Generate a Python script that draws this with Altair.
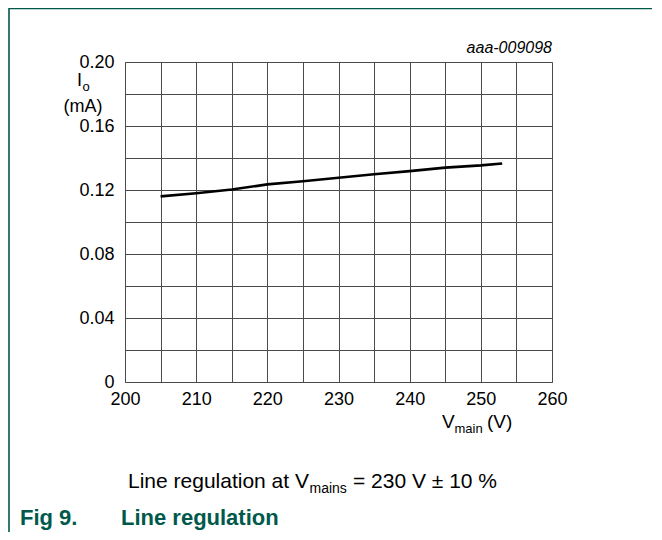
import altair as alt
import pandas as pd

# data
vmain = [205, 210, 215, 220, 225, 230, 235, 240, 245, 250, 253]
io_ma = [0.1160, 0.1180, 0.1203, 0.1235, 0.1255, 0.1277, 0.1298, 0.1318, 0.1340, 0.1354, 0.1366]

x_grid = [200, 205, 210, 215, 220, 225, 230, 235, 240, 245, 250, 255, 260]
y_grid = [0, 0.02, 0.04, 0.06, 0.08, 0.10, 0.12, 0.14, 0.16, 0.18, 0.20]

FONT = "Liberation Sans"
TEAL = "#00594a"
GRID = "#4a4a4a"
W, H = 427, 320
PADL, PADT, PADR, PADB = 117, 54, 100, 150

df = pd.DataFrame({"v": vmain, "i": io_ma})
one = pd.DataFrame({"k": [0]})

xscale = alt.Scale(domain=[200, 260], nice=False, zero=False)
yscale = alt.Scale(domain=[0, 0.2], nice=False, zero=False)

line = alt.Chart(df).mark_line(color="black", strokeWidth=2.6).encode(
    x=alt.X("v:Q", scale=xscale, axis=alt.Axis(
        values=x_grid, title=None, ticks=False, grid=True, gridColor=GRID,
        domainColor=GRID, labelFont=FONT, labelFontSize=18, labelColor="black",
        labelPadding=8, labelFlush=False,
        labelExpr="datum.value % 10 == 0 ? format(datum.value, 'd') : ''")),
    y=alt.Y("i:Q", scale=yscale, axis=alt.Axis(
        values=y_grid, title=None, ticks=False, grid=True, gridColor=GRID,
        domainColor=GRID, labelFont=FONT, labelFontSize=18, labelColor="black",
        labelPadding=11, labelFlush=False,
        labelExpr="round(datum.value*100) % 4 == 0 ? (datum.value == 0 ? '0' : format(datum.value, '.2f')) : ''")),
)


def txt(s, x, y, size=17, align="left", baseline="alphabetic", color="black",
        style="normal", weight="normal"):
    return alt.Chart(one).mark_text(
        text=s, align=align, baseline=baseline, font=FONT, fontSize=size,
        color=color, fontStyle=style, fontWeight=weight,
    ).encode(x=alt.value(x), y=alt.value(y))


texts = [
    txt("aaa-009098", W, -9, size=16, align="right", style="italic"),
    txt("I", -48, 24, size=18),
    txt("o", -42.5, 29, size=13),
    txt("(mA)", -42, 50, size=18, align="center"),
    txt("V", 317, 366, size=19),
    txt("main", 329.5, 371, size=13),
    txt("(V)", 362, 366, size=19),
    txt("Line regulation at V", 3, 426, size=21),
    txt("mains", 184.5, 431, size=14),
    txt("= 230 V \u00b1 10 %", 228, 426, size=21),
    txt("Fig 9.", -105, 463, size=22, weight="bold", color=TEAL),
    txt("Line regulation", -4, 463, size=22, weight="bold", color=TEAL),
]

border_top = alt.Chart(one).mark_rule(color=TEAL, strokeWidth=1.6).encode(
    x=alt.value(-116), x2=alt.value(W + PADR), y=alt.value(-53.5))
border_left = alt.Chart(one).mark_rule(color=TEAL, strokeWidth=1.6).encode(
    x=alt.value(-116), y=alt.value(-54), y2=alt.value(H + PADB))

chart = alt.layer(line, *texts, border_top, border_left).properties(
    width=W, height=H,
    padding={"left": PADL, "top": PADT, "right": PADR, "bottom": PADB},
    autosize=alt.AutoSizeParams(type="none"),
).configure_view(stroke=GRID).configure(background="white")

chart.save("out.html", embed_options={"renderer": "svg", "actions": False})
